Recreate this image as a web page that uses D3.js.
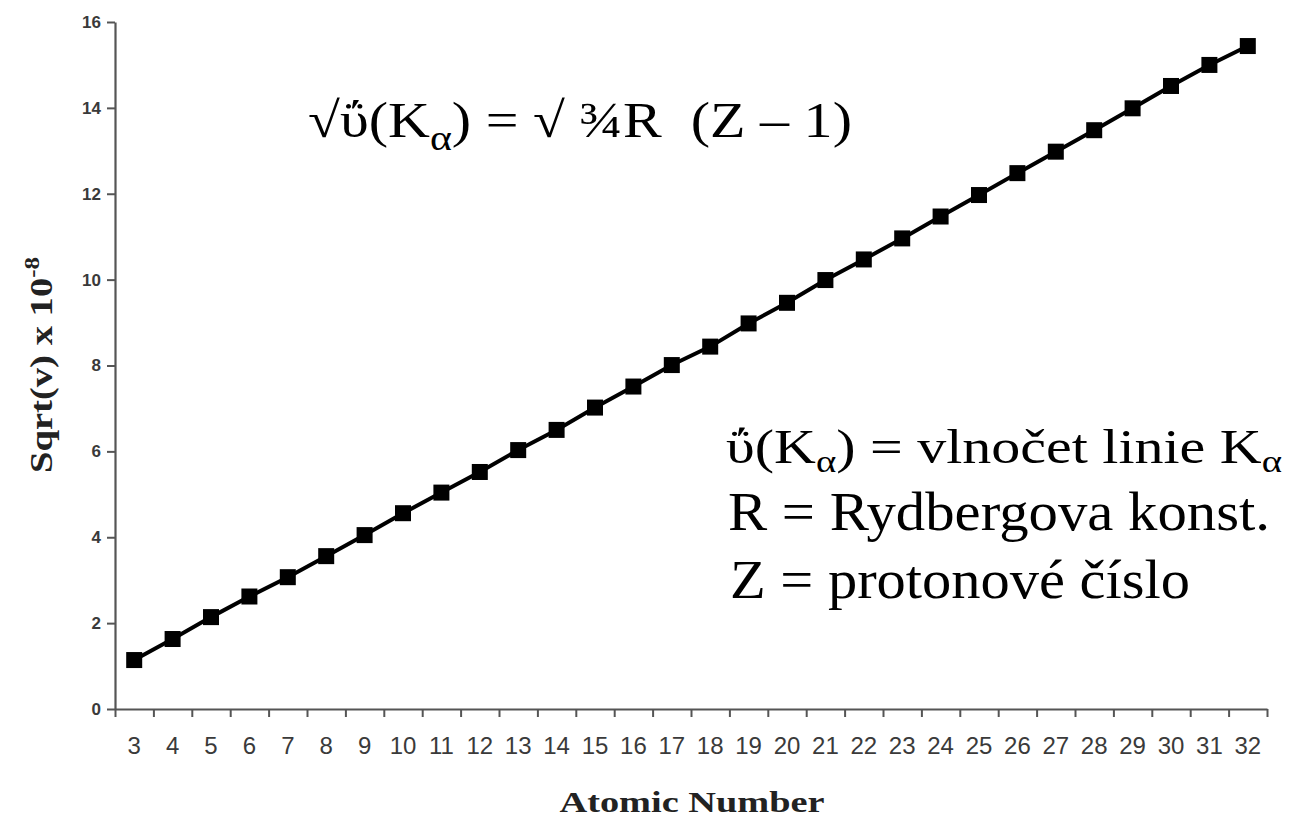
<!DOCTYPE html>
<html>
<head>
<meta charset="utf-8">
<script src="https://cdn.jsdelivr.net/npm/d3@7"></script>
<style>
  body { margin: 0; background: #fff; }
</style>
</head>
<body>
<svg id="plot"></svg>
<script>
// Data
const atomicNumbers = d3.range(3, 33);
const sqrtValues = [1.14, 1.63, 2.14, 2.62, 3.07, 3.56, 4.05, 4.56, 5.04, 5.52,
                    6.03, 6.50, 7.02, 7.51, 8.01, 8.44, 8.98, 9.46, 9.99, 10.47,
                    10.96, 11.47, 11.97, 12.48, 12.98, 13.48, 13.99, 14.51, 15.00, 15.44];
const yTicks = [0, 2, 4, 6, 8, 10, 12, 14, 16];

const W = 1297, H = 817;
const margin = { top: 22, right: 30, bottom: 108, left: 115 };
const width = W - margin.left - margin.right;   // 1152
const height = H - margin.top - margin.bottom;  // 687

const svg = d3.select('#plot')
    .attr("width", W)
    .attr("height", H)
    .style('background', '#FFFFFF');

const g = svg.append("g")
    .attr("transform", "translate(" + margin.left + "," + margin.top + ")");

// Scales
const x = d3.scaleBand()
    .domain(atomicNumbers)
    .range([0, width])
    .padding(0);

const xEdge = d3.scaleLinear()
    .domain([2.5, 32.5])
    .range([0, width]);

const y = d3.scaleLinear()
    .domain([0, 16])
    .range([height, 0]);

const axisColor = "#555";

// x-axis tick marks between categories
const xTicksAxis = g.append("g")
    .attr("transform", "translate(0," + height + ")")
    .call(d3.axisBottom(xEdge).tickValues(d3.range(2.5, 33, 1)).tickFormat("").tickSize(8).tickSizeOuter(0));
xTicksAxis.select(".domain").attr("stroke", axisColor).attr("stroke-width", 2.2);
xTicksAxis.selectAll(".tick line").attr("stroke", axisColor).attr("stroke-width", 2);

// x-axis labels
const xLabels = g.append("g")
    .attr("transform", "translate(0," + height + ")")
    .call(d3.axisBottom(x).tickSize(0).tickPadding(28));
xLabels.select(".domain").remove();
xLabels.selectAll("text")
    .attr("font-family", "Liberation Sans, Arial, sans-serif")
    .attr("font-size", 24)
    .attr("fill", "#3a3a3a");

// y-axis
const yAxis = g.append("g")
    .call(d3.axisLeft(y).tickValues(yTicks).tickSize(8).tickSizeOuter(0).tickPadding(6));
yAxis.select(".domain").attr("stroke", axisColor).attr("stroke-width", 2.2);
yAxis.selectAll(".tick line").attr("stroke", axisColor).attr("stroke-width", 2);
yAxis.selectAll("text")
    .attr("font-family", "Liberation Sans, Arial, sans-serif")
    .attr("font-size", 17)
    .attr("font-weight", "bold")
    .attr("fill", "#3a3a3a");

// Line
const data = atomicNumbers.map((z, i) => ({ z: z, v: sqrtValues[i] }));
const line = d3.line()
    .x(d => x(d.z) + x.bandwidth() / 2)
    .y(d => y(d.v));

g.append("path")
    .datum(data)
    .attr("fill", "none")
    .attr("stroke", "#000")
    .attr("stroke-width", 4)
    .attr("d", line);

// Square markers
const ms = 16;
g.selectAll(".marker")
    .data(data)
    .enter().append("rect")
    .attr("class", "marker")
    .attr("x", d => x(d.z) + x.bandwidth() / 2 - ms / 2)
    .attr("y", d => y(d.v) - ms / 2)
    .attr("width", ms)
    .attr("height", ms)
    .attr("fill", "#000");

const serif = "Liberation Serif, Times New Roman, serif";

// x-axis title
svg.append("text")
    .attr("x", 692)
    .attr("y", 812)
    .attr("text-anchor", "middle")
    .attr("font-family", serif)
    .attr("font-weight", "bold")
    .attr("font-size", 30)
    .attr("textLength", 265)
    .attr("lengthAdjust", "spacingAndGlyphs")
    .attr("fill", "#222")
    .text("Atomic Number");

// y-axis title
const yTitle = svg.append("text")
    .attr("transform", "translate(52,365) rotate(-90)")
    .attr("text-anchor", "middle")
    .attr("font-family", serif)
    .attr("font-weight", "bold")
    .attr("font-size", 31)
    .attr("textLength", 216)
    .attr("lengthAdjust", "spacingAndGlyphs")
    .attr("fill", "#222");
yTitle.append("tspan").text("Sqrt(v) x 10");
yTitle.append("tspan").attr("dy", -13).attr("font-size", 20).text("-8");

// Formula
const formula = svg.append("text")
    .attr("x", 308)
    .attr("y", 137)
    .attr("font-family", serif)
    .attr("font-size", 50)
    .attr("textLength", 544)
    .attr("lengthAdjust", "spacingAndGlyphs")
    .attr("fill", "#000");
formula.append("tspan").text("√ΰ(K");
formula.append("tspan").attr("dy", 13).attr("font-size", 36).text("α");
formula.append("tspan").attr("dy", -13).text(") = √ ¾R\u00a0\u00a0(Z – 1)");

// Legend lines
const legend = svg.append("g")
    .attr("font-family", serif)
    .attr("fill", "#000");

const l1 = legend.append("text").attr("x", 726).attr("y", 463)
    .attr("font-size", 48)
    .attr("textLength", 556)
    .attr("lengthAdjust", "spacingAndGlyphs");
l1.append("tspan").text("ΰ(K");
l1.append("tspan").attr("dy", 9).attr("font-size", 32).text("α");
l1.append("tspan").attr("dy", -9).text(") = vlnočet linie K");
l1.append("tspan").attr("dy", 9).attr("font-size", 32).text("α");

legend.append("text").attr("x", 728).attr("y", 530)
    .attr("font-size", 54)
    .attr("textLength", 542)
    .attr("lengthAdjust", "spacingAndGlyphs")
    .text("R = Rydbergova konst.");
legend.append("text").attr("x", 730).attr("y", 598)
    .attr("font-size", 54)
    .attr("textLength", 460)
    .attr("lengthAdjust", "spacingAndGlyphs")
    .text("Z = protonové číslo");
</script>
</body>
</html>
